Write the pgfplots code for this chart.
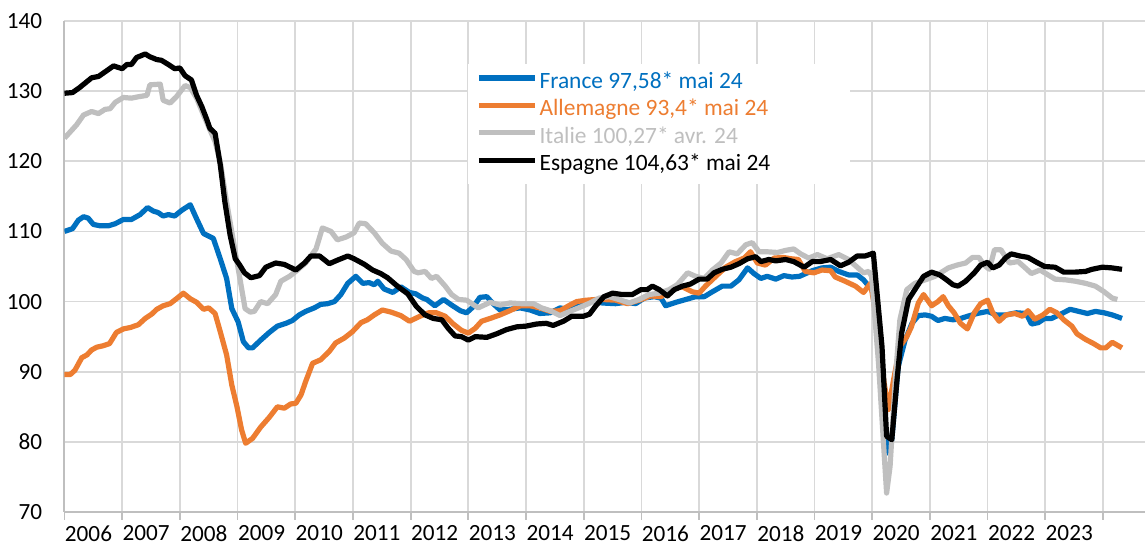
\documentclass[border=0pt]{standalone}
\usepackage{fontspec}
\setmainfont{Carlito}
\usepackage{pgfplots}
\pgfplotsset{compat=1.18}
\definecolor{frblue}{HTML}{0070C0}
\definecolor{deorange}{HTML}{ED7D31}
\definecolor{itgrey}{HTML}{BFBFBF}
\definecolor{gridgrey}{HTML}{D9D9D9}
\definecolor{axgrey}{HTML}{BFBFBF}
\begin{document}
\begin{tikzpicture}
\path[use as bounding box] (-32.25pt,-17.5pt) rectangle (541.75pt,256pt);
\begin{axis}[
 scale only axis, width=540pt, height=245.5pt,
 xmin=2006, xmax=2024.72, ymin=70, ymax=140,
 axis x line*=bottom, axis y line*=left,
 axis line style={-, draw=axgrey, line width=1pt},
 xtick={2006,2007,2008,2009,2010,2011,2012,2013,2014,2015,2016,2017,2018,2019,2020,2021,2022,2023,2024},
 xticklabels={2006,2007,2008,2009,2010,2011,2012,2013,2014,2015,2016,2017,2018,2019,2020,2021,2022,2023,{}},
 ytick={70,80,90,100,110,120,130,140},
 grid=major, major grid style={draw=gridgrey, line width=0.9pt},
 tick align=outside, major tick length=4pt,
 xtick style={draw=axgrey, line width=0.9pt},
 ytick style={draw=none},
 tick label style={font=\fontsize{11.6}{13}\selectfont},
 /pgf/number format/assume math mode=true,
 xticklabel style={anchor=north west, xshift=-3.3pt, yshift=0.6pt, text depth=0pt},
 yticklabel style={xshift=-3.7pt},
 legend style={at={(axis description cs:0.3736,0.9124)}, anchor=north west, draw=none, fill=white,
   inner xsep=4pt, inner ysep=4pt, row sep=3.2pt,
   nodes={inner sep=0pt, text height=8pt, text depth=2.5pt},
   font=\fontsize{11.7}{13}\selectfont},
 legend cell align=left,
 legend image code/.code={\draw[#1] (0pt,2.5pt) -- (28pt,2.5pt);},
 every axis plot/.append style={line width=2.6pt, line join=round},
]
\addplot[frblue] coordinates {(2006.00,110.0) (2006.14,110.4) (2006.24,111.6) (2006.33,112.1) (2006.41,111.9) (2006.50,111.0) (2006.62,110.8) (2006.76,110.8) (2006.88,111.1) (2007.02,111.7) (2007.16,111.7) (2007.31,112.4) (2007.44,113.4) (2007.54,112.9) (2007.62,112.7) (2007.71,112.2) (2007.80,112.4) (2007.91,112.2) (2008.03,113.0) (2008.18,113.8) (2008.29,111.8) (2008.41,109.7) (2008.58,109.0) (2008.70,106.1) (2008.81,103.3) (2008.90,99.0) (2009.01,97.1) (2009.10,94.3) (2009.19,93.4) (2009.26,93.4) (2009.40,94.5) (2009.55,95.6) (2009.69,96.5) (2009.84,96.9) (2009.95,97.3) (2010.07,98.1) (2010.18,98.6) (2010.33,99.1) (2010.44,99.6) (2010.56,99.7) (2010.68,100.0) (2010.79,101.0) (2010.91,102.6) (2011.05,103.6) (2011.17,102.6) (2011.28,102.7) (2011.37,102.4) (2011.43,102.9) (2011.54,101.8) (2011.69,101.3) (2011.83,102.1) (2011.98,101.3) (2012.09,101.1) (2012.21,100.5) (2012.28,100.3) (2012.42,99.4) (2012.57,100.3) (2012.71,99.5) (2012.86,98.7) (2012.97,98.4) (2013.09,99.3) (2013.20,100.6) (2013.32,100.7) (2013.43,99.7) (2013.55,98.8) (2013.72,98.9) (2013.90,99.1) (2014.07,98.8) (2014.24,98.3) (2014.42,98.4) (2014.59,99.1) (2014.76,98.8) (2014.94,99.7) (2015.14,100.2) (2015.32,99.8) (2015.55,99.7) (2015.73,99.9) (2015.90,99.7) (2016.05,100.5) (2016.22,100.7) (2016.34,100.5) (2016.42,99.4) (2016.60,99.9) (2016.77,100.3) (2016.94,100.7) (2017.09,100.7) (2017.23,101.4) (2017.40,102.2) (2017.55,102.2) (2017.69,103.1) (2017.84,104.8) (2017.95,104.0) (2018.07,103.3) (2018.18,103.6) (2018.33,103.2) (2018.47,103.7) (2018.61,103.5) (2018.74,103.6) (2018.85,104.0) (2018.96,104.4) (2019.13,104.8) (2019.28,104.9) (2019.42,104.3) (2019.59,103.8) (2019.74,103.8) (2019.85,103.1) (2019.94,102.2) (2020.02,101.7) (2020.17,88.8) (2020.25,78.4) (2020.34,80.3) (2020.45,90.7) (2020.57,94.5) (2020.69,96.9) (2020.80,98.0) (2020.92,98.1) (2021.03,97.9) (2021.14,97.3) (2021.26,97.6) (2021.40,97.4) (2021.50,97.5) (2021.65,97.9) (2021.82,98.3) (2022.00,98.6) (2022.15,98.1) (2022.32,98.1) (2022.50,98.4) (2022.67,98.3) (2022.76,96.8) (2022.88,97.0) (2022.99,97.6) (2023.11,97.6) (2023.29,98.3) (2023.43,98.9) (2023.58,98.6) (2023.73,98.3) (2023.87,98.6) (2024.02,98.4) (2024.16,98.1) (2024.33,97.6)};
\addlegendentry{\makebox[152pt][l]{\hspace{1pt}\textcolor{frblue}{France 97,58* mai 24}}}
\addplot[deorange] coordinates {(2006.00,89.6) (2006.10,89.6) (2006.18,90.2) (2006.30,92.0) (2006.39,92.4) (2006.47,93.1) (2006.56,93.5) (2006.67,93.7) (2006.78,94.0) (2006.90,95.6) (2007.02,96.1) (2007.14,96.3) (2007.28,96.7) (2007.40,97.6) (2007.51,98.2) (2007.60,98.9) (2007.71,99.4) (2007.83,99.7) (2007.94,100.4) (2008.06,101.2) (2008.18,100.4) (2008.29,99.9) (2008.41,98.9) (2008.50,99.1) (2008.61,98.3) (2008.70,95.7) (2008.81,92.4) (2008.90,88.1) (2008.99,85.0) (2009.07,81.7) (2009.14,79.8) (2009.26,80.5) (2009.40,82.1) (2009.55,83.5) (2009.69,85.0) (2009.81,84.8) (2009.92,85.4) (2010.01,85.5) (2010.10,86.7) (2010.18,88.6) (2010.30,91.2) (2010.44,91.7) (2010.59,92.9) (2010.70,94.1) (2010.85,94.8) (2010.99,95.7) (2011.14,97.0) (2011.25,97.4) (2011.37,98.1) (2011.51,98.8) (2011.66,98.5) (2011.83,98.0) (2011.98,97.2) (2012.16,97.9) (2012.31,98.4) (2012.45,98.4) (2012.60,97.9) (2012.74,96.8) (2012.88,95.9) (2013.00,95.5) (2013.12,96.2) (2013.23,97.2) (2013.38,97.6) (2013.55,98.1) (2013.72,98.7) (2013.90,99.4) (2014.07,99.4) (2014.24,99.1) (2014.42,98.6) (2014.59,98.7) (2014.76,99.5) (2014.88,100.0) (2015.05,100.2) (2015.22,100.3) (2015.32,100.3) (2015.55,100.2) (2015.76,99.7) (2015.96,100.2) (2016.16,100.8) (2016.34,100.7) (2016.54,101.8) (2016.71,102.1) (2016.88,101.4) (2017.00,101.2) (2017.11,102.2) (2017.29,103.6) (2017.46,104.9) (2017.63,105.7) (2017.78,106.2) (2017.89,107.1) (2018.01,105.5) (2018.15,105.2) (2018.30,106.2) (2018.45,106.3) (2018.60,106.1) (2018.72,106.0) (2018.84,104.3) (2018.99,104.1) (2019.13,104.5) (2019.28,104.4) (2019.36,103.5) (2019.53,102.9) (2019.71,102.2) (2019.85,101.3) (2019.97,102.6) (2020.08,97.4) (2020.20,88.8) (2020.28,84.6) (2020.37,88.8) (2020.48,93.6) (2020.60,95.0) (2020.68,96.4) (2020.80,99.8) (2020.89,101.0) (2021.03,99.4) (2021.14,100.0) (2021.23,100.7) (2021.32,99.4) (2021.42,98.4) (2021.53,96.9) (2021.65,96.1) (2021.77,98.4) (2021.88,99.7) (2022.00,100.2) (2022.09,98.4) (2022.20,97.2) (2022.32,98.1) (2022.47,98.3) (2022.61,97.9) (2022.70,98.7) (2022.82,97.5) (2022.96,98.1) (2023.08,98.9) (2023.20,98.4) (2023.32,97.4) (2023.46,96.5) (2023.55,95.4) (2023.70,94.6) (2023.84,94.0) (2023.96,93.4) (2024.05,93.4) (2024.16,94.2) (2024.33,93.4)};
\addlegendentry{\makebox[152pt][l]{\hspace{1pt}\textcolor{deorange}{Allemagne 93,4* mai 24}}}
\addplot[itgrey] coordinates {(2006.00,123.3) (2006.10,124.2) (2006.21,125.2) (2006.33,126.6) (2006.47,127.1) (2006.59,126.8) (2006.70,127.4) (2006.79,127.5) (2006.88,128.4) (2007.02,129.1) (2007.16,129.0) (2007.28,129.2) (2007.43,129.4) (2007.48,130.9) (2007.66,131.0) (2007.71,128.7) (2007.83,128.3) (2007.94,129.2) (2008.09,130.8) (2008.18,130.5) (2008.29,129.0) (2008.41,126.6) (2008.52,124.5) (2008.61,122.8) (2008.70,119.9) (2008.81,114.2) (2008.93,108.5) (2009.04,103.3) (2009.13,99.0) (2009.22,98.5) (2009.29,98.6) (2009.40,100.0) (2009.52,99.7) (2009.66,101.0) (2009.75,102.9) (2009.90,103.6) (2010.01,104.3) (2010.18,105.5) (2010.36,107.5) (2010.47,110.5) (2010.62,110.0) (2010.73,108.8) (2010.88,109.2) (2011.02,109.8) (2011.11,111.2) (2011.22,111.1) (2011.37,109.8) (2011.51,108.3) (2011.66,107.2) (2011.80,106.9) (2011.92,106.0) (2012.06,104.3) (2012.13,104.1) (2012.25,104.3) (2012.36,103.3) (2012.45,103.6) (2012.60,102.2) (2012.71,101.0) (2012.83,100.3) (2012.97,100.2) (2013.17,99.1) (2013.38,99.9) (2013.55,99.5) (2013.72,99.8) (2013.92,99.7) (2014.13,99.7) (2014.27,99.1) (2014.42,98.7) (2014.59,98.0) (2014.76,98.6) (2014.94,99.2) (2015.11,99.8) (2015.27,100.5) (2015.44,100.7) (2015.61,100.3) (2015.79,99.8) (2015.96,100.3) (2016.13,101.0) (2016.31,101.2) (2016.48,101.7) (2016.62,102.4) (2016.80,104.1) (2016.94,103.6) (2017.09,103.3) (2017.23,104.5) (2017.38,105.5) (2017.52,107.1) (2017.66,106.8) (2017.81,108.1) (2017.92,108.4) (2018.04,107.1) (2018.18,107.1) (2018.36,107.0) (2018.50,107.3) (2018.64,107.5) (2018.76,106.8) (2018.90,106.2) (2019.05,106.7) (2019.22,106.1) (2019.42,106.7) (2019.59,106.0) (2019.74,104.9) (2019.85,104.1) (2019.94,104.3) (2019.99,103.6) (2020.11,91.2) (2020.20,79.3) (2020.25,72.7) (2020.31,76.5) (2020.40,88.8) (2020.48,97.4) (2020.60,101.7) (2020.74,102.6) (2020.92,103.1) (2021.09,103.6) (2021.32,104.8) (2021.47,105.2) (2021.62,105.5) (2021.74,106.3) (2021.85,106.3) (2021.94,105.2) (2022.03,104.6) (2022.12,107.4) (2022.23,107.4) (2022.38,105.5) (2022.53,105.7) (2022.64,104.9) (2022.76,104.0) (2022.91,104.5) (2023.05,103.8) (2023.17,103.2) (2023.35,103.1) (2023.52,102.9) (2023.70,102.6) (2023.87,102.2) (2024.02,101.4) (2024.16,100.5) (2024.25,100.3)};
\addlegendentry{\makebox[152pt][l]{\hspace{1pt}\textcolor{itgrey}{Italie 100,27* avr. 24}}}
\addplot[black] coordinates {(2006.00,129.7) (2006.14,129.8) (2006.26,130.5) (2006.47,131.9) (2006.59,132.1) (2006.73,132.9) (2006.85,133.6) (2007.00,133.2) (2007.08,133.8) (2007.16,133.8) (2007.25,134.8) (2007.40,135.3) (2007.48,134.9) (2007.60,134.5) (2007.68,134.4) (2007.80,133.8) (2007.91,133.2) (2008.00,133.3) (2008.09,132.2) (2008.20,131.6) (2008.29,129.4) (2008.38,127.8) (2008.46,126.1) (2008.52,124.7) (2008.61,124.0) (2008.70,119.5) (2008.78,114.2) (2008.87,109.5) (2008.96,106.1) (2009.03,105.3) (2009.12,104.1) (2009.23,103.4) (2009.38,103.7) (2009.49,104.9) (2009.66,105.5) (2009.81,105.3) (2010.01,104.5) (2010.16,105.5) (2010.27,106.5) (2010.42,106.5) (2010.59,105.4) (2010.73,105.9) (2010.91,106.5) (2011.02,106.1) (2011.20,105.3) (2011.34,104.5) (2011.48,104.0) (2011.60,103.4) (2011.77,102.2) (2011.95,101.1) (2012.10,99.3) (2012.25,98.1) (2012.39,97.6) (2012.54,97.4) (2012.65,96.2) (2012.77,95.1) (2012.88,95.0) (2013.00,94.5) (2013.12,95.0) (2013.32,94.9) (2013.49,95.4) (2013.66,96.0) (2013.84,96.4) (2014.00,96.5) (2014.18,96.8) (2014.35,96.9) (2014.47,96.6) (2014.65,97.2) (2014.79,97.9) (2014.99,97.9) (2015.10,98.2) (2015.21,99.4) (2015.35,100.7) (2015.50,101.2) (2015.67,101.0) (2015.84,101.0) (2015.99,101.7) (2016.10,101.7) (2016.19,102.2) (2016.31,101.7) (2016.45,100.8) (2016.57,101.7) (2016.71,102.2) (2016.85,102.5) (2017.00,103.2) (2017.14,103.2) (2017.26,104.1) (2017.40,104.6) (2017.55,104.9) (2017.69,105.4) (2017.84,106.1) (2017.98,106.4) (2018.07,105.7) (2018.21,106.0) (2018.33,105.8) (2018.50,106.0) (2018.64,105.7) (2018.82,104.9) (2018.96,105.7) (2019.10,105.7) (2019.28,106.0) (2019.45,105.1) (2019.59,105.6) (2019.74,106.5) (2019.88,106.5) (2020.02,106.9) (2020.17,93.6) (2020.25,80.8) (2020.34,80.3) (2020.43,88.8) (2020.51,95.5) (2020.63,100.3) (2020.74,101.7) (2020.89,103.6) (2021.03,104.2) (2021.17,103.8) (2021.29,103.1) (2021.40,102.4) (2021.49,102.2) (2021.62,102.9) (2021.77,104.1) (2021.88,105.2) (2022.00,105.6) (2022.09,104.8) (2022.20,105.2) (2022.32,106.3) (2022.41,106.8) (2022.56,106.5) (2022.70,106.3) (2022.85,105.6) (2022.99,105.0) (2023.17,104.9) (2023.32,104.2) (2023.52,104.2) (2023.70,104.3) (2023.81,104.6) (2023.99,104.9) (2024.16,104.8) (2024.33,104.6)};
\addlegendentry{\makebox[152pt][l]{\hspace{1pt}\textcolor{black}{Espagne 104,63* mai 24}}}
\end{axis}
\end{tikzpicture}
\end{document}
